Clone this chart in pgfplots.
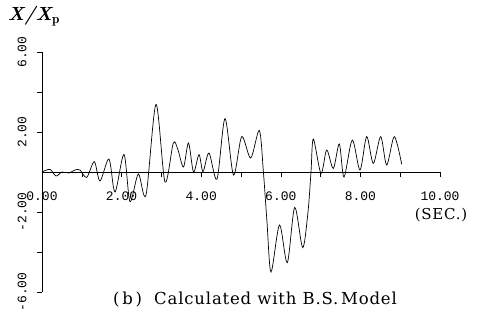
\documentclass[border=0pt]{standalone}
\usepackage{pgfplots}
\pgfplotsset{compat=1.18}
\usepackage{fontspec}
\newfontfamily\plotfont{Liberation Mono}
\newfontfamily\titlefont{DejaVu Serif}[LetterSpace=5]
\begin{document}
\begin{tikzpicture}[x=1pt,y=1pt]
\useasboundingbox (0,0) rectangle (487,-325);
\begin{axis}[
  at={(42pt,-292pt)}, anchor=south west,
  width=398pt, height=240pt, scale only axis,
  xmin=0, xmax=10, ymin=-6, ymax=6,
  axis x line=middle, axis y line=left,
  axis line style={-, line width=0.6pt},
  hide obscured x ticks=false, hide obscured y ticks=false,
  tick style={black, line width=0.6pt},
  major tick length=5pt,
  tick align=outside,
  xtick={0,1,2,3,4,5,6,7,8,9,10},
  xticklabels={0.00,,2.00,,4.00,,6.00,,8.00,,10.00},
  ytick={-6,-4,-2,2,4,6},
  yticklabels={-6.00,,-2.00,2.00,,6.00},
  xticklabel style={font=\plotfont\fontsize{13}{13}\selectfont, yshift=-11pt},
  yticklabel style={font=\plotfont\fontsize{13}{13}\selectfont, xshift=-7pt, rotate=90, anchor=south},
  clip=false,
]
\addplot[black, line width=0.7pt, smooth, tension=0.5] coordinates {
(0.000,0.00) (0.201,0.13) (0.352,-0.20) (0.503,0.00) (0.678,-0.05) (0.829,0.10)
(0.955,0.10) (1.123,-0.27) (1.314,0.52) (1.457,-0.45) (1.683,0.65) (1.834,-1.00)
(2.060,0.88) (2.211,-1.48) (2.420,-0.10) (2.613,-1.15) (2.864,3.38) (3.090,-0.50)
(3.299,1.45) (3.417,1.10) (3.555,0.25) (3.681,1.45) (3.807,0.00) (3.945,0.87)
(4.045,0.02) (4.196,0.95) (4.397,-0.35) (4.598,2.67) (4.812,-0.15) (5.018,1.77)
(5.244,0.70) (5.460,2.08) (5.563,0.00) (5.653,-2.50) (5.754,-5.00) (5.967,-2.65)
(6.163,-4.53) (6.349,-1.77) (6.550,-3.78) (6.683,-2.00) (6.759,0.00) (6.817,1.65)
(7.010,-0.07) (7.153,1.10) (7.319,0.18) (7.470,1.40) (7.588,-0.25) (7.796,1.60)
(7.990,0.10) (8.158,1.77) (8.324,0.43) (8.510,1.77) (8.661,0.35) (8.852,1.77)
(9.038,0.38)
};
\end{axis}
\node at (34pt,-16pt) {\fontsize{19}{19}\selectfont \bfseries\itshape X/X$_{\mathbf{p}}$};
\node at (441pt,-215pt) {\titlefont\fontsize{15}{15}\selectfont (SEC.)};
\node at (255pt,-300pt) {\titlefont\fontsize{16.5}{16.5}\selectfont (\,b\,)\ \ Calculated with B.S.\,Model};
\end{tikzpicture}
\end{document}
